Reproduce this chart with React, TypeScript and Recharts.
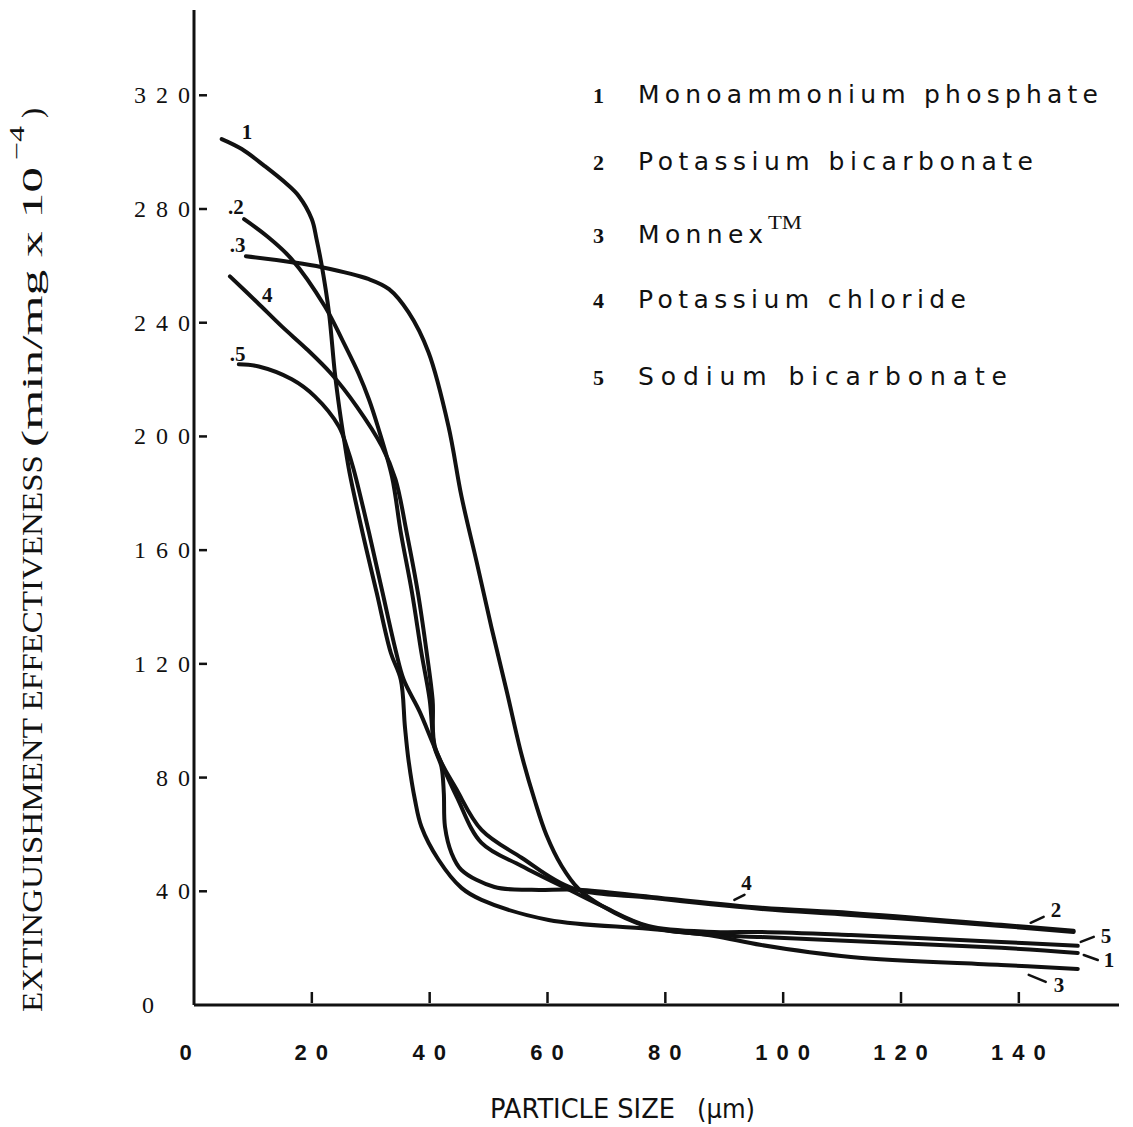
import React from 'react';
import { LineChart, Line, XAxis, YAxis, Legend, ReferenceDot } from 'recharts';

type Pt = { x: number; y: number };

const xTicks = [0, 20, 40, 60, 80, 100, 120, 140];
const yTicks = [0, 40, 80, 120, 160, 200, 240, 280, 320];

const seriesNumbers = ['1', '2', '3', '4', '5'];
const seriesNames = [
  'Monoammonium phosphate',
  'Potassium bicarbonate',
  'Monnex',
  'Potassium chloride',
  'Sodium bicarbonate',
];

const monoammoniumPhosphate: Pt[] = [
  { x: 4.7, y: 304.6 }, { x: 8.1, y: 301.1 }, { x: 12.0, y: 295.1 }, { x: 15.8, y: 288.7 },
  { x: 17.8, y: 284.5 }, { x: 20.0, y: 276.4 }, { x: 20.8, y: 269.4 }, { x: 21.7, y: 259.9 },
  { x: 22.9, y: 243.7 }, { x: 23.9, y: 222.5 }, { x: 24.7, y: 209.5 }, { x: 25.6, y: 197.2 },
  { x: 26.4, y: 187.3 }, { x: 28.6, y: 166.2 }, { x: 31.0, y: 145.1 }, { x: 33.4, y: 123.9 },
  { x: 35.1, y: 114.4 }, { x: 35.8, y: 97.9 }, { x: 36.4, y: 86.3 }, { x: 37.5, y: 72.2 },
  { x: 38.6, y: 62.7 }, { x: 41.5, y: 51.1 }, { x: 45.4, y: 41.2 }, { x: 48.8, y: 37.0 },
  { x: 60.2, y: 29.9 }, { x: 77.1, y: 26.8 }, { x: 88.3, y: 24.6 }, { x: 96.3, y: 23.9 },
  { x: 111.5, y: 22.5 }, { x: 137.0, y: 20.1 }, { x: 150.0, y: 18.3 },
];

const potassiumBicarbonate: Pt[] = [
  { x: 8.5, y: 276.4 }, { x: 12.4, y: 270.4 }, { x: 16.6, y: 262.3 }, { x: 22.2, y: 245.8 },
  { x: 25.1, y: 234.2 }, { x: 28.0, y: 221.8 }, { x: 29.7, y: 213.0 }, { x: 31.2, y: 203.5 },
  { x: 33.6, y: 185.9 }, { x: 35.1, y: 166.2 }, { x: 37.0, y: 145.1 }, { x: 38.6, y: 123.9 },
  { x: 40.0, y: 107.4 }, { x: 40.8, y: 90.8 }, { x: 42.0, y: 83.8 }, { x: 42.4, y: 74.6 },
  { x: 42.6, y: 62.7 }, { x: 43.7, y: 53.5 }, { x: 45.4, y: 47.5 }, { x: 51.0, y: 41.5 },
  { x: 57.3, y: 40.5 }, { x: 65.3, y: 40.5 }, { x: 77.6, y: 38.0 }, { x: 96.3, y: 34.2 },
  { x: 111.5, y: 32.4 }, { x: 137.0, y: 28.2 }, { x: 149.3, y: 26.1 },
];

const monnex: Pt[] = [
  { x: 8.8, y: 263.4 }, { x: 16.6, y: 261.3 }, { x: 21.7, y: 259.5 }, { x: 29.7, y: 255.3 },
  { x: 33.1, y: 251.8 }, { x: 36.4, y: 243.7 }, { x: 39.8, y: 229.6 }, { x: 43.2, y: 203.5 },
  { x: 45.4, y: 178.9 }, { x: 48.0, y: 155.6 }, { x: 50.5, y: 132.7 }, { x: 53.1, y: 110.2 },
  { x: 55.6, y: 88.0 }, { x: 57.8, y: 72.2 }, { x: 59.8, y: 59.9 }, { x: 62.4, y: 48.9 },
  { x: 65.3, y: 40.8 }, { x: 69.2, y: 34.9 }, { x: 77.1, y: 27.5 }, { x: 88.3, y: 24.3 },
  { x: 96.3, y: 21.1 }, { x: 111.5, y: 16.9 }, { x: 137.0, y: 14.1 }, { x: 150.0, y: 12.7 },
];

const potassiumChloride: Pt[] = [
  { x: 6.1, y: 256.3 }, { x: 10.7, y: 247.2 }, { x: 14.9, y: 238.7 }, { x: 19.2, y: 230.6 },
  { x: 23.4, y: 221.8 }, { x: 27.6, y: 210.6 }, { x: 31.9, y: 196.5 },
  { x: 34.2, y: 184.9 }, { x: 36.1, y: 166.2 }, { x: 38.0, y: 145.1 }, { x: 39.5, y: 123.9 },
  { x: 40.5, y: 107.4 }, { x: 40.9, y: 90.8 }, { x: 44.6, y: 75.7 }, { x: 48.8, y: 61.6 },
  { x: 55.6, y: 51.8 }, { x: 64.1, y: 41.2 }, { x: 77.6, y: 37.7 }, { x: 96.3, y: 33.8 },
  { x: 111.5, y: 31.7 }, { x: 137.0, y: 27.8 }, { x: 149.3, y: 25.7 },
];

const sodiumBicarbonate: Pt[] = [
  { x: 7.6, y: 225.4 }, { x: 11.0, y: 224.6 }, { x: 16.6, y: 220.1 }, { x: 20.5, y: 214.1 },
  { x: 24.6, y: 203.5 }, { x: 25.9, y: 196.5 }, { x: 27.1, y: 188.4 }, { x: 29.7, y: 166.2 },
  { x: 32.0, y: 145.1 }, { x: 34.2, y: 125.0 }, { x: 35.6, y: 114.4 }, { x: 38.3, y: 103.2 },
  { x: 40.8, y: 90.8 }, { x: 44.6, y: 73.2 }, { x: 48.8, y: 57.0 }, { x: 55.6, y: 48.9 },
  { x: 64.1, y: 40.1 }, { x: 69.2, y: 34.9 }, { x: 77.1, y: 27.8 }, { x: 88.3, y: 25.7 },
  { x: 96.3, y: 25.7 }, { x: 111.5, y: 24.6 }, { x: 137.0, y: 22.2 }, { x: 150.0, y: 20.8 },
];

const seriesData = [monoammoniumPhosphate, potassiumBicarbonate, monnex, potassiumChloride, sodiumBicarbonate];

// x value on potassium chloride where its mid-curve number sits
const chlorideLabelX = 96.3;

const INK = '#111';
const SERIF = '"Liberation Serif", "DejaVu Serif", serif';
const SANS = '"DejaVu Sans", "Liberation Sans", sans-serif';

// Centripetal Catmull-Rom curve factory (smooth curve through every point)
class CatmullRomCurve {
  _context: any;
  _alpha: number;
  _line: number = NaN;
  _point = 0;
  _x0 = NaN; _x1 = NaN; _x2 = NaN; _y0 = NaN; _y1 = NaN; _y2 = NaN;
  _l01_a = 0; _l12_a = 0; _l23_a = 0; _l01_2a = 0; _l12_2a = 0; _l23_2a = 0;
  constructor(context: any, alpha: number) {
    this._context = context;
    this._alpha = alpha;
  }
  areaStart() { this._line = 0; }
  areaEnd() { this._line = NaN; }
  lineStart() {
    this._x0 = this._x1 = this._x2 = this._y0 = this._y1 = this._y2 = NaN;
    this._l01_a = this._l12_a = this._l23_a = this._l01_2a = this._l12_2a = this._l23_2a = this._point = 0;
  }
  lineEnd() {
    switch (this._point) {
      case 2: this._context.lineTo(this._x2, this._y2); break;
      case 3: this.point(this._x2, this._y2); break;
    }
    if (this._line || (this._line !== 0 && this._point === 1)) this._context.closePath();
    this._line = 1 - this._line;
  }
  bez(x: number, y: number) {
    let x1 = this._x1, y1 = this._y1, x2 = this._x2, y2 = this._y2;
    const eps = 1e-12;
    if (this._l01_a > eps) {
      const a = 2 * this._l01_2a + 3 * this._l01_a * this._l12_a + this._l12_2a;
      const n = 3 * this._l01_a * (this._l01_a + this._l12_a);
      x1 = (x1 * a - this._x0 * this._l12_2a + this._x2 * this._l01_2a) / n;
      y1 = (y1 * a - this._y0 * this._l12_2a + this._y2 * this._l01_2a) / n;
    }
    if (this._l23_a > eps) {
      const b = 2 * this._l23_2a + 3 * this._l23_a * this._l12_a + this._l12_2a;
      const m = 3 * this._l23_a * (this._l23_a + this._l12_a);
      x2 = (x2 * b + this._x1 * this._l23_2a - x * this._l12_2a) / m;
      y2 = (y2 * b + this._y1 * this._l23_2a - y * this._l12_2a) / m;
    }
    this._context.bezierCurveTo(x1, y1, x2, y2, this._x2, this._y2);
  }
  point(x: number, y: number) {
    x = +x; y = +y;
    if (this._point) {
      const x23 = this._x2 - x, y23 = this._y2 - y;
      this._l23_2a = Math.pow(x23 * x23 + y23 * y23, this._alpha);
      this._l23_a = Math.sqrt(this._l23_2a);
    }
    switch (this._point) {
      case 0:
        this._point = 1;
        if (this._line) this._context.lineTo(x, y); else this._context.moveTo(x, y);
        break;
      case 1: this._point = 2; break;
      case 2: this._point = 3; this.bez(x, y); break;
      default: this.bez(x, y); break;
    }
    this._l01_a = this._l12_a; this._l12_a = this._l23_a;
    this._l01_2a = this._l12_2a; this._l12_2a = this._l23_2a;
    this._x0 = this._x1; this._x1 = this._x2; this._x2 = x;
    this._y0 = this._y1; this._y1 = this._y2; this._y2 = y;
  }
}
const smoothCurve: any = (context: any) => new CatmullRomCurve(context, 0.5);

const Leader = ({ x1, y1, x2, y2 }: any) => (
  <line x1={x1} y1={y1} x2={x2} y2={y2} stroke={INK} strokeWidth={2.5} strokeLinecap="round" />
);
const Num = ({ x, y, children }: any) => (
  <text x={x} y={y} fontFamily={SERIF} fontSize={21} fontWeight="bold" fill={INK}>{children}</text>
);

// start-of-curve labels
const startShapes: ((cx: number, cy: number) => React.ReactElement)[] = [
  (cx, cy) => <Num x={cx + 20} y={cy}>1</Num>,
  (cx, cy) => <Num x={cx - 16} y={cy - 5}>.2</Num>,
  (cx, cy) => <Num x={cx - 16} y={cy - 4}>.3</Num>,
  (cx, cy) => <Num x={cx + 32} y={cy + 26}>4</Num>,
  (cx, cy) => <Num x={cx - 9} y={cy - 3}>.5</Num>,
];

// end-of-curve labels
const endShapes: (((cx: number, cy: number) => React.ReactElement) | null)[] = [
  (cx, cy) => (
    <g>
      <Leader x1={cx + 6} y1={cy + 2} x2={cx + 20} y2={cy + 7} />
      <Num x={cx + 26} y={cy + 14}>1</Num>
    </g>
  ),
  (cx, cy) => (
    <g>
      <Leader x1={cx - 43} y1={cy - 8} x2={cx - 30} y2={cy - 14} />
      <Num x={cx - 23} y={cy - 14}>2</Num>
    </g>
  ),
  (cx, cy) => (
    <g>
      <Leader x1={cx - 49} y1={cy + 6} x2={cx - 32} y2={cy + 13} />
      <Num x={cx - 24} y={cy + 23}>3</Num>
    </g>
  ),
  null,
  (cx, cy) => (
    <g>
      <Leader x1={cx + 3} y1={cy - 4} x2={cx + 16} y2={cy - 9} />
      <Num x={cx + 23} y={cy - 3}>5</Num>
    </g>
  ),
];

const midChlorideShape = (cx: number, cy: number) => (
  <g>
    <Leader x1={cx - 27} y1={cy - 9} x2={cx - 17} y2={cy - 14} />
    <Num x={cx - 20} y={cy - 19}>4</Num>
  </g>
);

const XTick = (props: any) => {
  const { x, y, payload } = props;
  const isZero = payload.value === 0;
  return (
    <g>
      {!isZero && (
        <line x1={x} x2={x} y1={y - 2} y2={y - 13} stroke={INK} strokeWidth={2.5} />
      )}
      <text
        x={x + 4 - (isZero ? 8 : 0)}
        y={y + 55}
        textAnchor="middle"
        fontFamily='"Liberation Sans", Arial, sans-serif'
        fontWeight="bold"
        fontSize={22}
        letterSpacing={9}
        fill={INK}
      >
        {payload.value}
      </text>
    </g>
  );
};

const YTick = (props: any) => {
  const { x, y, payload } = props;
  const isZero = payload.value === 0;
  return (
    <g>
      {!isZero && (
        <line x1={x + 5} x2={x + 13} y1={y} y2={y} stroke={INK} strokeWidth={2.5} />
      )}
      <text
        x={x + 6 - (isZero ? 36 : 0)}
        y={y + 8}
        textAnchor="end"
        fontFamily={SERIF}
        fontSize={24}
        letterSpacing={10}
        fill={INK}
      >
        {payload.value}
      </text>
    </g>
  );
};

const XLabel = (props: any) => {
  const vb = props.viewBox || { x: 194, y: 1005 };
  return (
    <g>
      <text
        x={vb.x + 296}
        y={vb.y + 113}
        fontFamily={SANS}
        fontSize={26}
        textLength={185}
        lengthAdjust="spacingAndGlyphs"
        fill={INK}
      >
        PARTICLE SIZE
      </text>
      <text
        x={vb.x + 503}
        y={vb.y + 113}
        fontFamily={SANS}
        fontSize={26}
        textLength={58}
        lengthAdjust="spacingAndGlyphs"
        fill={INK}
      >
        (μm)
      </text>
    </g>
  );
};

const YLabel = () => (
  <g transform="translate(42,0) rotate(-90)">
    <text x={-1012} y={0} fontFamily={SERIF} fontSize={30} textLength={557} lengthAdjust="spacingAndGlyphs" fill={INK}>
      EXTINGUISHMENT EFFECTIVENESS
    </text>
    <text x={-447} y={0} fontFamily={SERIF} fontSize={30} textLength={280} lengthAdjust="spacingAndGlyphs" fill={INK}>
      (min/mg x 10
    </text>
    <text x={-160} y={-18} fontFamily={SERIF} fontSize={22} textLength={34} lengthAdjust="spacingAndGlyphs" fill={INK}>
      −4
    </text>
    <text x={-118} y={0} fontFamily={SERIF} fontSize={30} fill={INK}>
      )
    </text>
  </g>
);

const legendRows = [
  { base: 43, len: 460 },
  { base: 110, len: 395 },
  { base: 183, len: 125 },
  { base: 248, len: 328 },
  { base: 325, len: 369 },
];

const LegendBox = () => (
  <svg width={548} height={345} style={{ display: 'block' }}>
    {seriesNames.map((name, i) => (
      <g key={name}>
        <text x={8} y={legendRows[i].base} fontFamily={SERIF} fontSize={22} fontWeight="bold" fill={INK}>
          {seriesNumbers[i]}
        </text>
        <text
          x={53}
          y={legendRows[i].base}
          fontFamily={SANS}
          fontSize={25}
          textLength={legendRows[i].len}
          lengthAdjust="spacing"
          fill={INK}
        >
          {name}
        </text>
        {name === 'Monnex' && (
          <text x={183} y={legendRows[i].base - 14} fontFamily={SERIF} fontSize={19} textLength={34} lengthAdjust="spacingAndGlyphs" fill={INK}>
            TM
          </text>
        )}
      </g>
    ))}
  </svg>
);

export default function App() {
  return (
    <div style={{ position: 'fixed', left: 0, top: 0, width: 1133, height: 1127, background: '#fff' }}>
      <LineChart width={1133} height={1127} margin={{ top: 10, right: 14, left: 0, bottom: 62 }}>
        <XAxis
          type="number"
          dataKey="x"
          domain={[0, 157]}
          ticks={xTicks}
          interval={0}
          allowDataOverflow
          height={60}
          tickLine={false}
          tickSize={0}
          tickMargin={0}
          axisLine={{ stroke: INK, strokeWidth: 3 }}
          tick={<XTick />}
          label={XLabel}
        />
        <YAxis
          type="number"
          dataKey="y"
          domain={[0, 350]}
          ticks={yTicks}
          interval={0}
          allowDataOverflow
          width={194}
          tickLine={false}
          tickSize={0}
          tickMargin={0}
          axisLine={{ stroke: INK, strokeWidth: 3 }}
          tick={<YTick />}
          label={YLabel}
        />
        <Legend
          layout="horizontal"
          verticalAlign="middle"
          align="center"
          content={() => <LegendBox />}
          wrapperStyle={{ position: 'absolute', left: 585, top: 60, width: 548, height: 345, margin: 0, padding: 0 }}
        />
        {seriesData.map((d, i) => (
          <Line
            key={seriesNames[i]}
            name={seriesNames[i]}
            data={d}
            dataKey="y"
            type={smoothCurve}
            stroke={INK}
            strokeWidth={4}
            strokeLinejoin="round"
            strokeLinecap="round"
            dot={false}
            activeDot={false}
            isAnimationActive={false}
          />
        ))}
        {seriesData.map((d, i) => (
          <ReferenceDot
            key={'s' + i}
            x={d[0].x}
            y={d[0].y}
            r={0}
            ifOverflow="visible"
            shape={(p: any) => startShapes[i](p.cx, p.cy)}
          />
        ))}
        {seriesData.map((d, i) => {
          const f = endShapes[i];
          if (!f) return null;
          const last = d[d.length - 1];
          return (
            <ReferenceDot
              key={'e' + i}
              x={last.x}
              y={last.y}
              r={0}
              ifOverflow="visible"
              shape={(p: any) => f(p.cx, p.cy)}
            />
          );
        })}
        {(() => {
          const pt = potassiumChloride.find((p) => p.x === chlorideLabelX)!;
          return (
            <ReferenceDot
              x={pt.x}
              y={pt.y}
              r={0}
              ifOverflow="visible"
              shape={(p: any) => midChlorideShape(p.cx, p.cy)}
            />
          );
        })()}
      </LineChart>
    </div>
  );
}
